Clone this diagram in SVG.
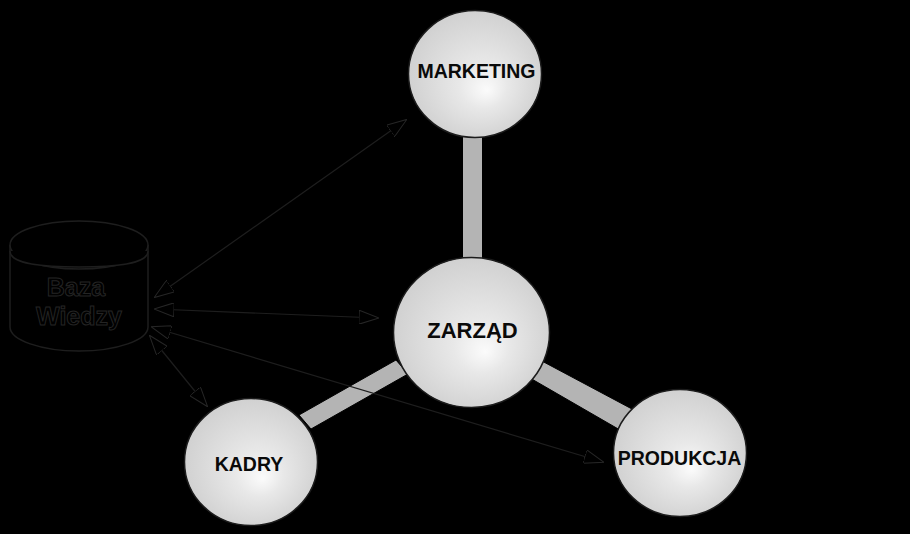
<svg xmlns="http://www.w3.org/2000/svg" width="910" height="534" viewBox="0 0 910 534">
<style>
.ball{fill:url(#g);stroke:#1c1c1c;stroke-width:1.5}
.lbl{font-family:"Liberation Sans",Arial,sans-serif;font-weight:bold;fill:#0a0a0a;text-anchor:middle}
.bar{fill:#b4b4b4;stroke:#000;stroke-width:1}
.arr{fill:none;stroke:#1e1e1e;stroke-width:1.2;marker-start:url(#a);marker-end:url(#a)}
.db{fill:#000;stroke:#1e1e1e;stroke-width:1.5}
.dbt{font-family:"Liberation Sans",Arial,sans-serif;font-weight:bold;font-size:25px;fill:#000;stroke:#242424;stroke-width:1;text-anchor:middle}
</style>
<defs>
<radialGradient id="g" cx="0.5" cy="0.5" r="0.6" fx="0.59" fy="0.63">
<stop offset="0" stop-color="#fbfbfb"/><stop offset="0.3" stop-color="#e8e8e8"/><stop offset="1" stop-color="#cbcbcb"/>
</radialGradient>
<marker id="a" viewBox="0 0 20 14" refX="19" refY="7" markerWidth="20" markerHeight="14" markerUnits="userSpaceOnUse" orient="auto-start-reverse">
<path d="M0 0L20 7L0 14Z" fill="#000" stroke="#262626" stroke-width="1"/>
</marker>
</defs>
<rect width="910" height="534" fill="#000"/>
<g id="connectors">
<rect class="bar" x="462.500" y="130" width="20" height="135"/>
<path class="bar" d="M299 415L396 360L408 374L311 429Z"/>
<path class="bar" d="M540 360L632 409L620 430L530 378Z"/>
<path class="arr" d="M155 297L406 120"/>
<path class="arr" d="M155 309L378 318"/>
<path class="arr" d="M152 327L603 462"/>
<path class="arr" d="M150 336L207 406"/>
</g>
<g id="baza-wiedzy">
<path class="db" d="M10 245V327C10 340 41 351 79 351S148 340 148 327V245"/>
<ellipse class="db" cx="79" cy="245" rx="69" ry="24"/>
<path class="db" d="M10 251C10 264 41 267 79 267S148 264 148 251" fill="none"/>
<text class="dbt" x="76" y="296">Baza</text>
<text class="dbt" x="79" y="325">Wiedzy</text>
</g>
<g id="marketing">
<ellipse class="ball" cx="475" cy="74" rx="66.500" ry="63.500"/>
<text class="lbl" x="476.500" y="78" font-size="19.500">MARKETING</text>
</g>
<g id="zarzad">
<ellipse class="ball" cx="471.500" cy="332.500" rx="78" ry="75"/>
<text class="lbl" x="472.500" y="338" font-size="22px">ZARZĄD</text>
</g>
<g id="kadry">
<ellipse class="ball" cx="251" cy="462" rx="66.500" ry="63.500"/>
<text class="lbl" x="249" y="471" font-size="19.500px">KADRY</text>
</g>
<g id="produkcja">
<ellipse class="ball" cx="680" cy="453" rx="66.500" ry="63.500"/>
<text class="lbl" x="679.500" y="465" font-size="19.500px">PRODUKCJA</text>
</g>
</svg>
